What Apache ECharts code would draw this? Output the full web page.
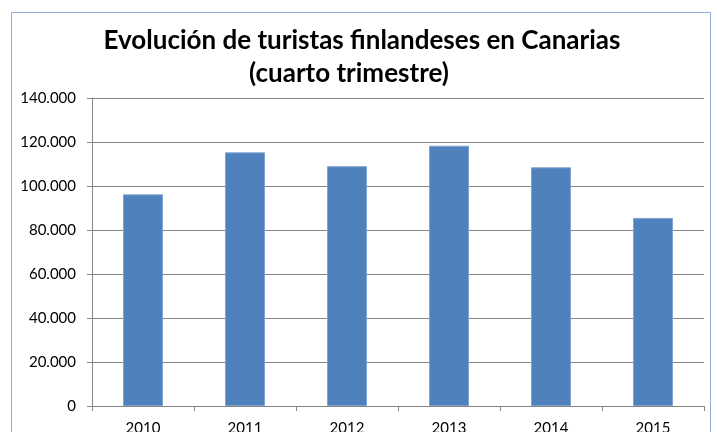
<!DOCTYPE html>
<html><head><meta charset="utf-8">
<script src="https://cdn.jsdelivr.net/npm/echarts@6/dist/echarts.min.js"></script>
<style>html,body{margin:0;padding:0;background:#fff}#c{width:717px;height:432px}</style>
</head><body><div id="c"></div>
<script>
const categories = ['2010','2011','2012','2013','2014','2015'];
const visitors = [96200, 115300, 109000, 118300, 108500, 85500];
const yTicks = [0, 20000, 40000, 60000, 80000, 100000, 120000, 140000];
const titleLines = ['Evolución de turistas finlandeses en Canarias', '(cuarto trimestre)'];

function fmt(v){ return v === 0 ? '0' : String(v).replace(/\B(?=(\d{3})+(?!\d))/g, '.'); }

const tStyle = {fontFamily:'Lato', fontWeight:'bold', fontSize:26, color:'#000'};
const chart = echarts.init(document.getElementById('c'), null, {renderer:'canvas'});
chart.setOption({
  animation:false,
  backgroundColor:'#fff',
  title:[
    {text:titleLines[0], left:362, top:28, textAlign:'center', padding:0, textStyle:tStyle},
    {text:titleLines[1], left:349, top:61, textAlign:'center', padding:0, textStyle:tStyle}
  ],
  graphic:[{type:'rect', shape:{x:11.5,y:12.5,width:699,height:440}, style:{fill:null, stroke:'#8EB0DC', lineWidth:1}, silent:true}],
  grid:{left:92, right:13, top:98, bottom:26, containLabel:false, outerBoundsMode:'none'},
  xAxis:{
    type:'category', data:categories,
    axisLine:{lineStyle:{color:'#868686'}},
    axisTick:{show:true, length:5, lineStyle:{color:'#868686'}},
    axisLabel:{color:'#000', fontFamily:'Lato', fontSize:15, margin:15}
  },
  yAxis:{
    type:'value', min:yTicks[0], max:yTicks[yTicks.length-1], interval:yTicks[1]-yTicks[0],
    axisLine:{show:true, lineStyle:{color:'#868686'}},
    axisTick:{show:true, length:5, lineStyle:{color:'#868686'}},
    splitLine:{lineStyle:{color:'#868686'}},
    axisLabel:{color:'#000', fontFamily:'Lato', fontSize:15, margin:16, formatter:fmt}
  },
  series:[{
    type:'bar', data:visitors, barWidth:40,
    itemStyle:{color:'#4F81BD', borderColor:'#7FA3D0', borderWidth:1}
  }]
});
</script></body></html>
